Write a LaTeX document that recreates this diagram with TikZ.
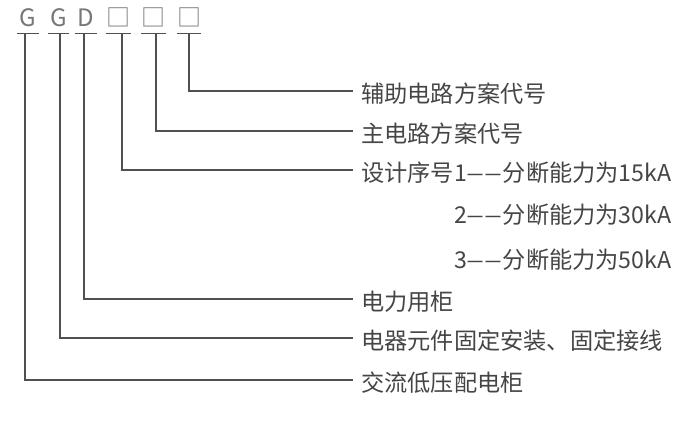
\documentclass[tikz,border=0pt]{standalone}
\usepackage{fontspec}
\usepackage{graphicx}
\setmainfont{Noto Sans CJK SC}
\definecolor{lettergray}{HTML}{777777}
\definecolor{linegray}{HTML}{505050}
\definecolor{textgray}{HTML}{454545}
\newcommand{\dd}{\scalebox{1.45}[1]{––}}
\begin{document}
\begin{tikzpicture}[x=1pt,y=-1pt,
  letter/.style={font=\fontsize{24}{28}\selectfont, text=lettergray, minimum width=21pt, minimum height=31pt, inner sep=0pt},
  uline/.style={draw=linegray, line width=1.3pt},
  conn/.style={draw=linegray, line width=1.3pt},
  lbl/.style={font=\fontsize{23.2}{28}\selectfont, text=textgray, anchor=west, inner xsep=8pt, inner ysep=0pt, text height=25.5pt, text depth=3pt}]
\useasboundingbox (0,0) rectangle (695,420);
% code letters
\node[letter] (g1) at (28,17.5) {G};
\node[letter] (g2) at (58.5,17.5) {G};
\node[letter] (d)  at (86,17.5) {D};
\node[letter] (b1) at (118.5,17.5) {□};
\node[letter] (b2) at (153.5,17.5) {□};
\node[letter] (b3) at (189,17.5) {□};
\foreach \n in {g1,g2,d,b1,b2,b3}
  \draw[uline] (\n.south west) -- (\n.south east);
% labels
\node[lbl] (l1) at (353,91)  {辅助电路方案代号};
\node[lbl] (l2) at (353,131) {主电路方案代号};
\node[lbl] (l3) at (353,170) {设计序号1\dd 分断能力为15kA};
\node[lbl] (l4) at (353,212) {\hphantom{设计序号}2\dd 分断能力为30kA};
\node[lbl] (l5) at (353,257) {\hphantom{设计序号}3\dd 分断能力为50kA};
\node[lbl] (l6) at (353,299) {电力用柜};
\node[lbl] (l7) at (353,338) {电器元件固定安装、固定接线};
\node[lbl] (l8) at (353,380) {交流低压配电柜};
% connectors
\draw[conn] ([xshift=-3pt]g1.south) |- (l8.west);
\draw[conn] ([xshift=1.5pt]g2.south) |- (l7.west);
\draw[conn] ([xshift=-2pt]d.south)  |- (l6.west);
\draw[conn] ([xshift=3.5pt]b1.south) |- (l3.west);
\draw[conn] ([xshift=2.5pt]b2.south) |- (l2.west);
\draw[conn] (b3.south) |- (l1.west);
\end{tikzpicture}
\end{document}
